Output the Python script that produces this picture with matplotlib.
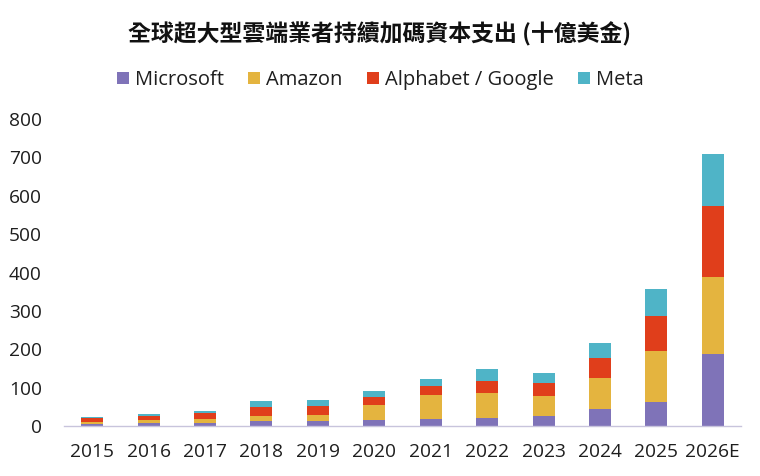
import numpy as np
import matplotlib.pyplot as plt
import matplotlib

matplotlib.rcParams['font.family'] = ['Open Sans', 'Noto Sans CJK TC', 'DejaVu Sans']

years = ['2015', '2016', '2017', '2018', '2019', '2020', '2021', '2022', '2023', '2024', '2025', '2026E']
microsoft = [6, 8, 8, 12, 13, 15, 18, 22, 26, 43, 62, 188]
amazon = [5, 8, 11, 13, 16, 39, 62, 63, 52, 83, 133, 200]
google = [10, 10, 14, 25, 24, 22, 25, 32, 34, 52, 92, 185]
meta = [2.5, 4.5, 7, 14, 15, 15, 18, 32, 27, 37, 69, 135]

series_names = ['Microsoft', 'Amazon', 'Alphabet / Google', 'Meta']
colors = ['#7f73b8', '#e4b43f', '#e03e1b', '#4fb4c7']

fig = plt.figure(figsize=(7.6, 4.76), dpi=100, facecolor='white')
ax = fig.add_axes([64/760, 50/476, 677/760, 307/476])

x = np.arange(len(years))
bottom = np.zeros(len(years))
for name, vals, c in zip(series_names, [microsoft, amazon, google, meta], colors):
    ax.bar(x, vals, bottom=bottom, width=0.39, color=c, label=name, zorder=2)
    bottom += np.array(vals)

ax.set_xlim(-0.5, len(years) - 0.5)
ax.set_ylim(0, 800)
ax.set_yticks(range(0, 801, 100))
ax.set_xticks(x)
ax.set_xticklabels(years)
ax.tick_params(axis='both', length=0, labelsize=13.8, colors='#1e1e1e')
ax.tick_params(axis='y', pad=16)
ax.tick_params(axis='x', pad=12)
for s in ['top', 'right', 'left']:
    ax.spines[s].set_visible(False)
ax.spines['bottom'].set_color('#c8c4dc')
ax.spines['bottom'].set_linewidth(1)

fig.text(0.5, 1 - 34/476, '全球超大型雲端業者持續加碼資本支出 (十億美金)', ha='center', va='center',
         fontsize=16.5, fontweight='bold', family=['Noto Sans CJK TC', 'DejaVu Sans'], color='#111111')

leg = fig.legend(loc='center', bbox_to_anchor=(0.5, 1 - 80/476), ncol=4, frameon=False,
                 fontsize=14.5, handlelength=0.6, handleheight=0.6, handletextpad=0.3,
                 columnspacing=1.2)
for t in leg.get_texts():
    t.set_color('#1e1e1e')

plt.savefig('out.png', dpi=100, facecolor='white')
